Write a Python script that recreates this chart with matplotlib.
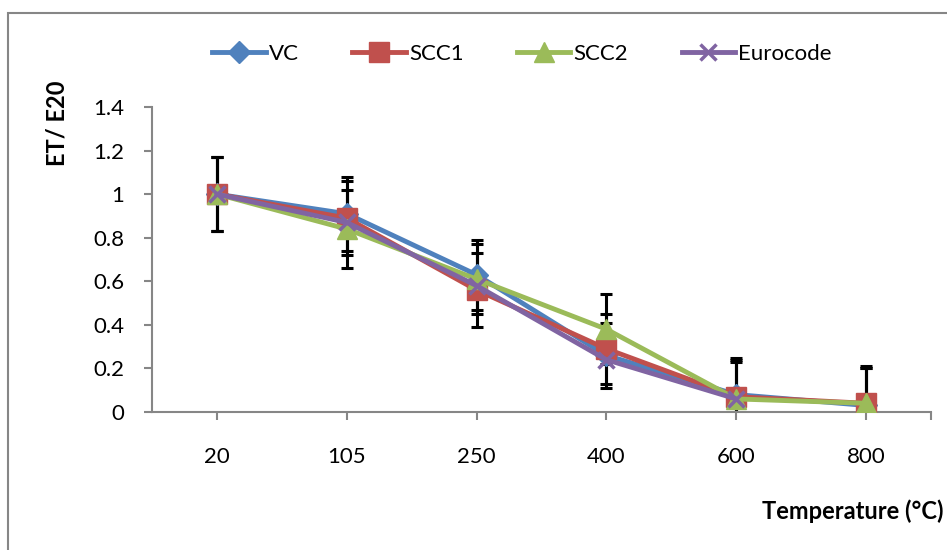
import numpy as np
import matplotlib
matplotlib.use("Agg")
import matplotlib.pyplot as plt
from matplotlib.patches import Rectangle

plt.rcParams['font.family'] = ['Lato', 'DejaVu Sans']

# Data
temperatures = ['20', '105', '250', '400', '600', '800']
vc = [1.00, 0.91, 0.63, 0.26, 0.08, 0.03]
scc1 = [1.00, 0.89, 0.56, 0.29, 0.07, 0.04]
scc2 = [1.00, 0.84, 0.61, 0.38, 0.06, 0.04]
eurocode = [1.00, 0.87, 0.58, 0.24, 0.06, np.nan]
vc_err = [0.17, 0.17, 0.16, 0.15, 0.17, 0.17]
scc1_err = [0.17, 0.17, 0.17, 0.16, 0.17, 0.17]
scc2_err = [0.17, 0.18, 0.16, 0.16, 0.17, 0.16]

W, H = 947, 550
fig = plt.figure(figsize=(W / 100, H / 100), dpi=100)

# outer chart frame
fig.patches.append(Rectangle((8 / W, -0.05), 1.1, 1 - 13 / H + 0.05,
                             transform=fig.transFigure, fill=False,
                             edgecolor='#868686', linewidth=1.5))

ax = fig.add_axes([152 / W, 1 - 412 / H, (931 - 152) / W, (412 - 107) / H])
x = np.arange(len(temperatures))

series = [
    ('VC', vc, vc_err, '#4F81BD', 'D', 11),
    ('SCC1', scc1, scc1_err, '#C0504D', 's', 15),
    ('SCC2', scc2, scc2_err, '#9BBB59', '^', 15),
    ('Eurocode', eurocode, None, '#8064A2', 'x', 12),
]

for i, (name, vals, err, color, marker, ms) in enumerate(series):
    if err is not None:
        ax.errorbar(x, vals, yerr=err, fmt='none', ecolor='black',
                    elinewidth=2.2, capsize=4, capthick=2.2, zorder=1)
    ax.plot(x, vals, color=color, linewidth=3.5, marker=marker,
            markersize=ms, markeredgewidth=2.5 if marker == 'x' else 1,
            markeredgecolor=color, label=name, zorder=3 + i)

ax.set_xlim(-0.5, 5.5)
ax.set_ylim(0, 1.4)
ax.set_yticks(np.arange(0, 1.41, 0.2))
ax.set_yticklabels(['0', '0.2', '0.4', '0.6', '0.8', '1', '1.2', '1.4'])
ax.set_xticks(list(x) + [5.5])
ax.set_xticklabels(temperatures + [''])

for s in ['top', 'right']:
    ax.spines[s].set_visible(False)
for s in ['left', 'bottom']:
    ax.spines[s].set_color('#868686')
    ax.spines[s].set_linewidth(1.5)
ax.tick_params(axis='both', colors='#868686', width=1.5, length=6,
               labelcolor='black', labelsize=16)
ax.tick_params(axis='y', pad=14)
ax.tick_params(axis='x', pad=19)

fig.text(57 / W, 1 - 123 / H, 'ET/ E20', rotation=90, fontsize=17,
         fontweight='bold', ha='center', va='center')
fig.text(762 / W, 1 - 511 / H, 'Temperature (°C)', fontsize=17,
         fontweight='bold', ha='left', va='center')

ax.legend(loc='center', bbox_to_anchor=(522 / W, 1 - 54 / H),
          bbox_transform=fig.transFigure, ncol=4, frameon=False,
          fontsize=16, handlelength=2.4, handletextpad=0.15,
          columnspacing=2.4)

fig.savefig('out.png', dpi=100, facecolor='white')
